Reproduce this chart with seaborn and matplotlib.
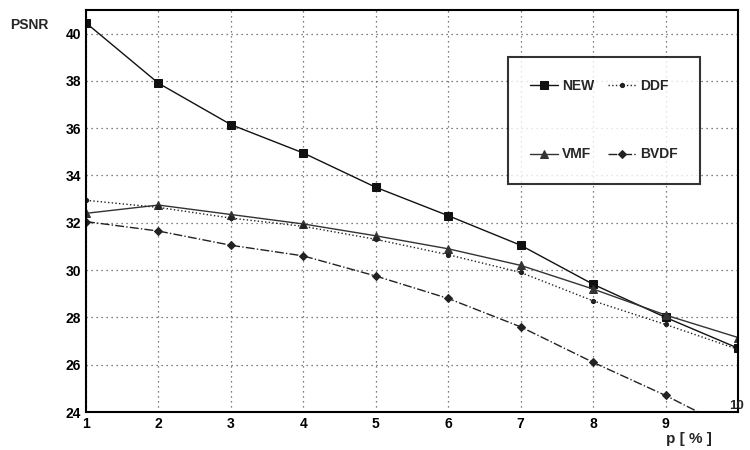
import numpy as np
import pandas as pd
import matplotlib
matplotlib.use('Agg')
import matplotlib.pyplot as plt
import seaborn as sns

# data
p = [1, 2, 3, 4, 5, 6, 7, 8, 9, 10]
psnr_new = [40.45, 37.9, 36.15, 34.95, 33.5, 32.3, 31.05, 29.4, 28.0, 26.7]
psnr_ddf = [32.95, 32.65, 32.2, 31.85, 31.3, 30.65, 29.9, 28.7, 27.7, 26.65]
psnr_vmf = [32.4, 32.75, 32.35, 31.95, 31.45, 30.9, 30.2, 29.2, 28.1, 27.15]
psnr_bvdf = [32.05, 31.65, 31.05, 30.6, 29.75, 28.8, 27.6, 26.1, 24.7, 23.15]

sns.set_theme(style='white')
plt.rcParams['font.family'] = ['Liberation Sans', 'DejaVu Sans']

fig = plt.figure(figsize=(7.5, 4.5), dpi=100)
ax = fig.add_axes([0.1147, 0.0844, 0.8693, 0.8936])

# order so that the 2-column legend reads NEW, DDF / VMF, BVDF
series = [
    ('NEW', psnr_new, 's', '-', 6, '#111111'),
    ('VMF', psnr_vmf, '^', '-', 6, '#333333'),
    ('DDF', psnr_ddf, 'o', ':', 3, '#222222'),
    ('BVDF', psnr_bvdf, 'D', '-.', 4.5, '#222222'),
]
for name, vals, mk, ls, ms, col in series:
    df = pd.DataFrame({'p': p, 'PSNR': vals})
    sns.lineplot(data=df, x='p', y='PSNR', ax=ax, marker=mk, linestyle=ls,
                 markersize=ms, color=col, linewidth=1.0, label=name,
                 markeredgecolor=col)

ax.set_xlim(1, 10)
ax.set_ylim(24, 41)
ax.set_xticks(range(1, 11))
ax.set_yticks(range(24, 41, 2))
ax.grid(True, color='#555555', linestyle=(0, (1, 3)), linewidth=0.9)
for s in ax.spines.values():
    s.set_color('black')
    s.set_linewidth(1.5)
ax.tick_params(axis='both', labelsize=10, length=3, direction='in', colors='black')
ax.set_xticklabels([str(v) if v < 10 else '' for v in range(1, 11)])
for lbl in ax.get_xticklabels() + ax.get_yticklabels():
    lbl.set_fontweight('bold')
ax.set_xlabel('')
ax.set_ylabel('')

fig.text(0.013, 0.944, 'PSNR', fontsize=10, fontweight='bold', ha='left', va='center')
fig.text(0.982, 0.098, '10', fontsize=9.5, fontweight='bold', ha='center', va='center')
fig.text(0.918, 0.025, 'p [ % ]', fontsize=11, fontweight='bold', ha='center', va='center')

leg = ax.legend(loc='upper left', bbox_to_anchor=(0.636, 0.90), ncol=2,
                frameon=True, fancybox=False, edgecolor='black',
                prop={'weight': 'bold', 'size': 10}, handlelength=2.0,
                columnspacing=1.0, labelspacing=3.9, borderpad=1.6,
                handletextpad=0.3)
leg.get_frame().set_linewidth(1.5)

fig.savefig('out.png', dpi=100, facecolor='white')
